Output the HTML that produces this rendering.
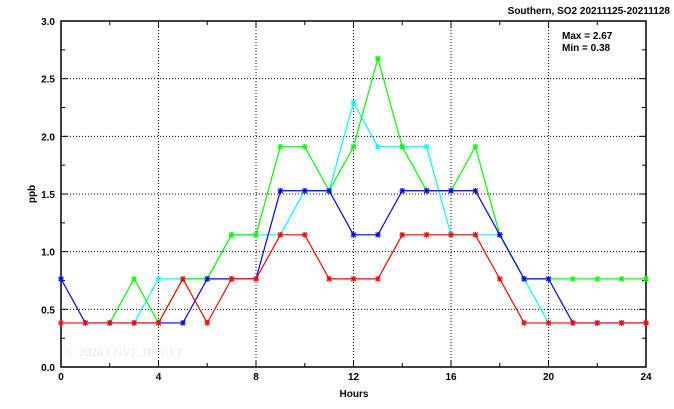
<!DOCTYPE html>
<html><head><style>body{margin:0;background:#fff}svg{display:block}text{font-family:"Liberation Sans",sans-serif;font-size:10px;font-weight:bold;fill:#000}</style></head>
<body>
<svg id="s" width="674" height="409" xmlns="http://www.w3.org/2000/svg">
<text x="670" y="14" text-anchor="end">Southern, SO2 20211125-20211128</text>
<text x="562" y="39">Max = 2.67</text>
<text x="562" y="51">Min = 0.38</text>
<text x="67" y="356" style="fill:#e8e8e8;font-family:'Liberation Serif',serif;font-size:12px;font-weight:normal">© 2026  ENVF, HKUST</text>
<text x="354" y="397" text-anchor="middle">Hours</text>
<text transform="translate(35,194) rotate(-90)" text-anchor="middle">ppb</text>
</svg>
<script>
const s=document.getElementById('s'),NS='http://www.w3.org/2000/svg';
const L=61,R=646,T=21,B=367;
const X=h=>L+(R-L)*h/24,Y=v=>B-(B-T)*v/3;
function el(n,a){const e=document.createElementNS(NS,n);for(const k in a)e.setAttribute(k,a[k]);s.appendChild(e);return e;}
for(let v=0.5;v<3;v+=0.5)el('line',{x1:L,x2:R,y1:Y(v),y2:Y(v),stroke:'#000','stroke-dasharray':'1,2','stroke-width':1});
for(let h=4;h<24;h+=4)el('line',{x1:X(h),x2:X(h),y1:T,y2:B,stroke:'#000','stroke-dasharray':'1,2','stroke-width':1});
for(let i=0;i<=12;i++){const y=Y(i*0.25),l=i%2?4:7;el('line',{x1:L,x2:L+l,y1:y,y2:y,stroke:'#000'});el('line',{x1:R,x2:R-l,y1:y,y2:y,stroke:'#000'});}
for(let h=0;h<=24;h+=2){const x=X(h),l=h%4?4:7;el('line',{x1:x,x2:x,y1:B,y2:B-l,stroke:'#000'});el('line',{x1:x,x2:x,y1:T,y2:T+l,stroke:'#000'});}
for(let i=0;i<=6;i++){const t=el('text',{x:L-6,y:Y(i*0.5)+4,'text-anchor':'end'});t.textContent=(i*0.5).toFixed(1);}
for(let h=0;h<=24;h+=4){const t=el('text',{x:X(h),y:B+13,'text-anchor':'middle'});t.textContent=h;}
el('rect',{x:L,y:T,width:R-L,height:B-T,fill:'none',stroke:'#000','stroke-width':1.5});
const u=0.382;
const series=[
['#00ffff',3,[1,2,2,2,3,3,3,4,4,6,5,5,5,3,3,3,2,1]],
['#00ff00',2,[1,2,1,2,2,3,3,5,5,4,5,7,5,4,4,5,3,2,2,2,2,2,2]],
['#0000ff',0,[2,1,1,1,1,1,2,2,2,4,4,4,3,3,4,4,4,4,3,2,2,1,1,1,1]],
['#ff0000',0,[1,1,1,1,1,2,1,2,2,3,3,2,2,2,3,3,3,3,2,1,1,1,1,1,1]]];
for(const [c,st,d] of series){
 const pts=d.map((k,i)=>[X(st+i),Y(k*u)]);
 el('polyline',{points:pts.map(p=>p.join(',')).join(' '),fill:'none',stroke:c,'stroke-width':1.2});
 for(const [x,y] of pts){el('path',{d:`M${x-2.3},${y-2.3}L${x+2.3},${y+2.3}M${x-2.3},${y+2.3}L${x+2.3},${y-2.3}M${x},${y-2.8}V${y+2.8}M${x-2.8},${y}H${x+2.8}`,stroke:c,'stroke-width':1.1});}
}
</script>
</body></html>
